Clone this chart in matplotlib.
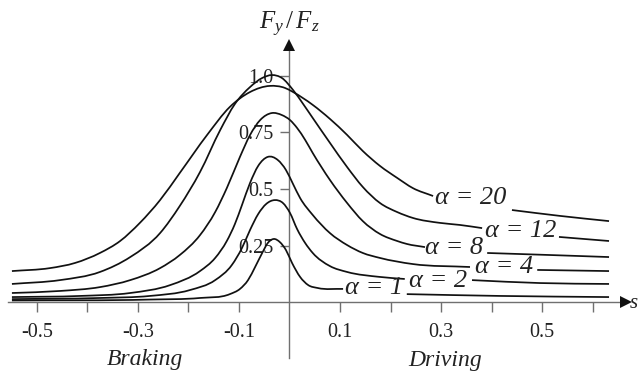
import numpy as np
import matplotlib
matplotlib.use("Agg")
import matplotlib.pyplot as plt
from matplotlib.path import Path
from matplotlib.patches import PathPatch
from matplotlib.ticker import FixedLocator, FixedFormatter

plt.rcParams["font.family"] = ["Liberation Serif", "DejaVu Serif"]
plt.rcParams["mathtext.fontset"] = "custom"
plt.rcParams["mathtext.it"] = "Liberation Serif:italic"
plt.rcParams["mathtext.rm"] = "Liberation Serif"

nan = np.nan

# Lateral force ratio Fy/Fz against longitudinal slip s, one curve per slip angle
# (nan marks where a curve is interrupted by its label)
s_a20 = [-0.549, -0.474, -0.424, -0.375, -0.335, -0.296, -0.256, -0.217, -0.163, -0.118,
         -0.078, -0.039, -0.009, 0.007, 0.046, 0.080, 0.114, 0.145, 0.179, 0.213,
         0.244, 0.284, nan, 0.440, 0.535, 0.632]
f_a20 = [0.137, 0.150, 0.173, 0.217, 0.270, 0.350, 0.451, 0.571, 0.739, 0.863,
         0.929, 0.956, 0.947, 0.929, 0.872, 0.810, 0.739, 0.668, 0.602, 0.549,
         0.504, 0.469, nan, 0.407, 0.381, 0.358]

s_a12 = [-0.549, -0.454, -0.375, -0.315, -0.256, -0.217, -0.177, -0.137, -0.108, -0.078,
         -0.054, -0.035, -0.015, 0.007, 0.027, 0.046, 0.080, 0.114, 0.145, 0.179,
         0.213, 0.244, 0.298, 0.337, 0.381, nan, 0.533, 0.632]
f_a12 = [0.080, 0.097, 0.133, 0.199, 0.305, 0.425, 0.575, 0.761, 0.876, 0.951,
         0.991, 1.004, 0.991, 0.938, 0.876, 0.814, 0.704, 0.597, 0.509, 0.438,
         0.398, 0.372, 0.350, 0.341, 0.327, nan, 0.288, 0.270]

s_a8 = [-0.549, -0.454, -0.375, -0.315, -0.256, -0.217, -0.177, -0.147, -0.124, -0.098,
        -0.078, -0.058, -0.035, -0.015, 0.001, 0.015, 0.031, 0.046, 0.080, 0.114,
        0.145, 0.179, 0.213, 0.232, 0.268, nan, 0.391, 0.515, 0.632]
f_a8 = [0.040, 0.049, 0.066, 0.097, 0.150, 0.208, 0.296, 0.398, 0.504, 0.642,
        0.739, 0.805, 0.836, 0.827, 0.805, 0.770, 0.717, 0.659, 0.540, 0.438,
        0.358, 0.301, 0.270, 0.257, 0.243, nan, 0.217, 0.208, 0.199]

s_a4 = [-0.549, -0.414, -0.315, -0.236, -0.177, -0.147, -0.124, -0.108, -0.094, -0.078,
        -0.062, -0.043, -0.023, -0.007, 0.007, 0.021, 0.046, 0.080, 0.114, 0.145,
        0.179, 0.244, 0.357, nan, 0.490, 0.632]
f_a4 = [0.022, 0.027, 0.040, 0.075, 0.137, 0.195, 0.270, 0.345, 0.429, 0.527,
        0.602, 0.642, 0.628, 0.584, 0.522, 0.460, 0.385, 0.305, 0.252, 0.217,
        0.195, 0.168, 0.155, nan, 0.142, 0.137]

s_a2 = [-0.549, -0.375, -0.276, -0.197, -0.147, -0.114, -0.094, -0.078, -0.062, -0.046,
        -0.029, -0.013, 0.001, 0.015, 0.031, 0.046, 0.080, 0.114, 0.179, 0.228,
        nan, 0.361, 0.495, 0.632]
f_a2 = [0.013, 0.018, 0.027, 0.053, 0.097, 0.164, 0.239, 0.319, 0.389, 0.434,
        0.451, 0.438, 0.394, 0.323, 0.261, 0.217, 0.159, 0.133, 0.111, 0.102,
        nan, 0.097, 0.084, 0.080]

s_a1 = [-0.549, -0.276, -0.177, -0.118, -0.098, -0.082, -0.068, -0.054, -0.043, -0.031,
        -0.019, -0.007, 0.005, 0.021, 0.037, 0.056, 0.106, nan, 0.232, 0.416, 0.632]
f_a1 = [0.007, 0.011, 0.018, 0.035, 0.058, 0.097, 0.155, 0.217, 0.261, 0.279,
        0.265, 0.230, 0.173, 0.111, 0.075, 0.062, 0.058, nan, 0.035, 0.027, 0.022]

curves = [(s_a20, f_a20), (s_a12, f_a12), (s_a8, f_a8),
          (s_a4, f_a4), (s_a2, f_a2), (s_a1, f_a1)]

curve_labels = ["α = 20", "α = 12", "α = 8", "α = 4", "α = 2", "α = 1"]
label_s = [0.359, 0.458, 0.325, 0.424, 0.294, 0.167]
label_f = [0.460, 0.314, 0.239, 0.155, 0.093, 0.062]

x_ticks = [-0.5, -0.4, -0.3, -0.2, -0.1, 0.1, 0.2, 0.3, 0.4, 0.5, 0.6]
x_tick_labels = ["-0.5", "", "-0.3", "", "-0.1", "0.1", "", "0.3", "", "0.5", ""]
y_ticks = [0.25, 0.5, 0.75, 1.0]
y_tick_labels = ["0.25", "0.5", "0.75", "1.0"]

axis_grey = "#707070"
ink = "#111111"


def smooth_curve_path(xs, ys):
    """Cubic Hermite path through the points (tangents from neighbouring chords)."""
    xs = np.asarray(xs, float)
    ys = np.asarray(ys, float)
    verts, codes = [], []
    breaks = np.where(np.isnan(xs))[0]
    starts = np.concatenate(([0], breaks + 1))
    ends = np.concatenate((breaks, [len(xs)]))
    for a, b in zip(starts, ends):
        x, y = xs[a:b], ys[a:b]
        n = len(x)
        if n < 2:
            continue
        h = np.diff(x)
        d = np.diff(y) / h
        m = np.empty(n)
        m[0], m[-1] = d[0], d[-1]
        for i in range(1, n - 1):
            m[i] = (d[i - 1] * h[i] + d[i] * h[i - 1]) / (h[i - 1] + h[i])
        verts.append((x[0], y[0]))
        codes.append(Path.MOVETO)
        for i in range(n - 1):
            verts += [(x[i] + h[i] / 3, y[i] + m[i] * h[i] / 3),
                      (x[i + 1] - h[i] / 3, y[i + 1] - m[i + 1] * h[i] / 3),
                      (x[i + 1], y[i + 1])]
            codes += [Path.CURVE4] * 3
    return Path(np.array(verts), codes)


fig = plt.figure(figsize=(6.38, 3.78), dpi=100)
ax = fig.add_axes([0, 0, 1, 1])
ax.set_xlim(-0.5726, 0.6893)
ax.set_ylim(-0.336, 1.336)

for s_vals, f_vals in curves:
    ax.add_patch(PathPatch(smooth_curve_path(s_vals, f_vals), facecolor="none",
                           edgecolor=ink, lw=1.25, capstyle="butt", zorder=3))

for txt, xs, ys in zip(curve_labels, label_s, label_f):
    ax.text(xs, ys, txt, fontsize=19, style="italic", ha="center", va="center",
            color="#222222", zorder=4)

# axes drawn through the origin
for side in ("top", "right"):
    ax.spines[side].set_visible(False)
ax.spines["bottom"].set_position(("data", 0))
ax.spines["left"].set_position(("data", 0))
ax.spines["bottom"].set_bounds(-0.557, 0.66)
ax.spines["left"].set_bounds(-0.248, 1.12)
for side in ("bottom", "left"):
    ax.spines[side].set_color(axis_grey)
    ax.spines[side].set_linewidth(1.0)
    ax.spines[side].set_zorder(2)

ax.xaxis.set_major_locator(FixedLocator(x_ticks))
ax.xaxis.set_major_formatter(FixedFormatter(x_tick_labels))
ax.yaxis.set_major_locator(FixedLocator(y_ticks))
ax.yaxis.set_major_formatter(FixedFormatter(y_tick_labels))
ax.tick_params(axis="x", direction="out", length=7, width=1.0, color=axis_grey,
               labelsize=14.5, pad=8, labelcolor="#222222")
ax.tick_params(axis="y", direction="out", length=6.5, width=1.0, color=axis_grey,
               labelsize=14.5, pad=5, labelcolor="#222222")

# arrow heads
ax.plot([0.666], [0], marker=">", ms=9, color=ink, clip_on=False, zorder=5,
        markeredgewidth=0)
ax.plot([0], [1.135], marker="^", ms=9, color=ink, clip_on=False, zorder=5,
        markeredgewidth=0)

ax.text(0, 1.226, r"$F_y\,/\,F_z$", fontsize=18, ha="center", va="center", color="#222222")
ax.text(0.6885, -0.005, "s", fontsize=15, style="italic", ha="right", va="center",
        color="#222222")
ax.text(-0.286, -0.252, "Braking", fontsize=17, style="italic", ha="center", va="center",
        color="#222222")
ax.text(0.307, -0.26, "Driving", fontsize=17, style="italic", ha="center", va="center",
        color="#222222")

fig.savefig("out.png", dpi=100, facecolor="white")
